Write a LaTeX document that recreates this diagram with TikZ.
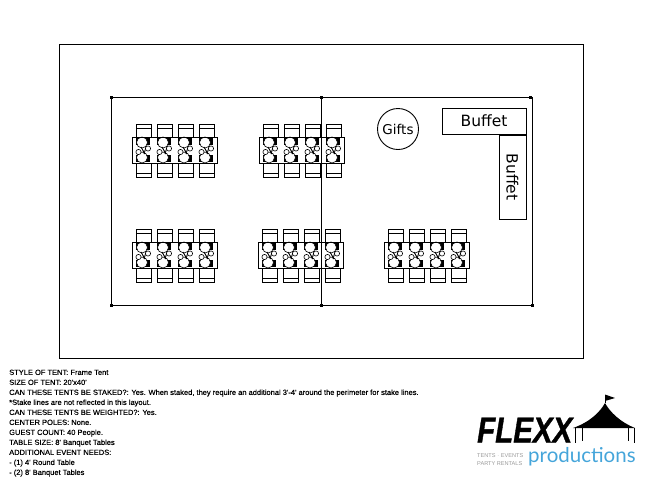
\documentclass[tikz,border=0pt]{standalone}
\usepackage{fontspec}
\setmainfont{Liberation Sans}
\newfontfamily\notefont[FakeBold=0.25]{Liberation Sans}
\newfontfamily\cadfont{DejaVu Sans}
\newfontfamily\flexxfont[FakeBold=1.2]{Liberation Sans}
\newfontfamily\prodfont{Lato}
\usepackage{xcolor}
\definecolor{prodblue}{HTML}{45A5DA}
\definecolor{taggray}{HTML}{9A9A9A}
\tikzset{
  thinline/.style={black, line width=0.9pt},
  plate/.style={draw=black, fill=white, line width=0.6pt},
  cadtext/.style={font=\cadfont\fontsize{15.5}{16}\selectfont, inner sep=0pt},
}
\newcommand{\chairset}[2]{
\begin{scope}[shift={(#1,#2)}]
\foreach \c in {0,21,42,63}{
  % chairs
  \draw[thinline] (4+\c,0)--++(0,-13)--++(15,0)--++(0,13);
  \draw[thinline] (4+\c,-9)--++(15,0);
  \draw[thinline] (4+\c,26)--++(0,14)--++(15,0)--++(0,-14);
  \draw[thinline] (4+\c,36)--++(15,0);
  % place settings
  \fill[black] (4+\c,1) rectangle (8+\c,8);
  \fill[black] (13+\c,1) rectangle (18+\c,8);
  \fill[black] (4+\c,18) rectangle (8+\c,25);
  \fill[black] (13+\c,18) rectangle (18+\c,25);
  \draw[plate] (10+\c,5.5) circle [radius=5.5];
  \draw[plate] (10+\c,20.5) circle [radius=5.5];
  \draw[black, line width=0.9pt] (9+\c,10)--++(4,7);
  \draw[black, line width=0.9pt] (14+\c,10)--++(-2,7);
  \draw[plate] (6.5+\c,15) circle [radius=2.6];
  \draw[plate] (16+\c,11.5) circle [radius=2.6];
}
% table
\draw[thinline] (0,0) rectangle (85,26);
\end{scope}
}

\begin{document}
\begin{tikzpicture}[x=1pt,y=-1pt]
\useasboundingbox (0,0) rectangle (655,491);

% outer boundary
\draw[thinline] (59,44) rectangle (583,358);

% tent
\draw[thinline] (111,97) rectangle (532,305);
\draw[thinline] (321,97)--(321,305);
\foreach \x/\y in {111/97,321/97,530/97,111/305,321/305,532/305}{
  \fill[black] (\x-1.5,\y-1.5) rectangle (\x+1.5,\y+1.5);
}

% tables
\chairset{132}{137}
\chairset{259}{137}
\chairset{132}{242}
\chairset{258}{242}
\chairset{384}{242}

% gifts and buffets
\node[draw, thinline, circle, minimum size=41pt, inner sep=0pt,
  font=\cadfont\fontsize{13.5}{14}\selectfont] (gifts) at (398,129) {Gifts};
\node[draw, thinline, cadtext, minimum width=84pt, minimum height=26pt] (buffetA) at (484,121) {Buffet};
\node[draw, thinline, cadtext, minimum width=84pt, minimum height=27pt, rotate=-90] (buffetB) at (512.5,177) {Buffet};

% notes
\node[anchor=north west, align=left, inner sep=0pt,
  font=\notefont\fontsize{7.5}{10}\selectfont] (notes) at (9,369.5)
{STYLE OF TENT: Frame Tent\\
SIZE OF TENT: 20'x40'\\
CAN THESE TENTS BE STAKED?: Yes. When staked, they require an additional 3'-4' around the perimeter for stake lines.\\
*Stake lines are not reflected in this layout.\\
CAN THESE TENTS BE WEIGHTED?: Yes.\\
CENTER POLES: None.\\
GUEST COUNT: 40 People.\\
TABLE SIZE: 8' Banquet Tables\\
ADDITIONAL EVENT NEEDS:\\
- (1) 4' Round Table\\
- (2) 8' Banquet Tables};

% logo
\fill[black] (573,428)..controls (590,422) and (600,412)..(605,403)
  ..controls (610,412) and (620,422)..(635,428)--cycle;
\draw[black, line width=1pt] (605,403)--(605,395);
\fill[black] (605,394.5)--(615,398)--(605,401)--cycle;
\draw[black, line width=1pt] (575,428)--(575,443);
\draw[black, line width=0.7pt] (582,428)--(582,441);
\draw[black, line width=1pt] (634,428)--(634,443);
\draw[black, line width=0.7pt] (628,428)--(628,441);
\node[anchor=base west, inner sep=0pt, xscale=0.82, font=\flexxfont\bfseries\itshape\fontsize{36}{36}\selectfont] (flexx) at (477,442.5) {FLEXX};
\node[anchor=base west, inner sep=0pt, text=prodblue, font=\prodfont\fontsize{20.5}{21}\selectfont] (prod) at (528,462.5) {productions};
\node[anchor=base west, inner sep=0pt, text=taggray, font=\fontsize{5.6}{9}\selectfont] (tagA) at (477,457) {TENTS $\cdot$ EVENTS};
\node[anchor=base west, inner sep=0pt, text=taggray, font=\fontsize{5.6}{9}\selectfont] (tagB) at (477,465) {PARTY RENTALS};

\end{tikzpicture}
\end{document}
